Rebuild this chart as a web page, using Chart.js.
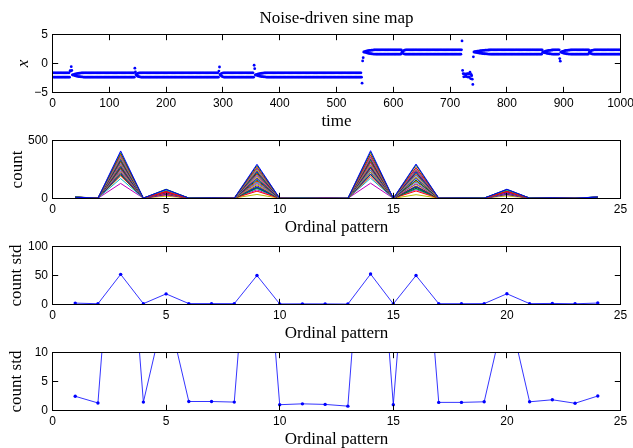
<!DOCTYPE html>
<html>
<head>
<meta charset="utf-8">
<script src="https://cdn.jsdelivr.net/npm/chart.js@4.4.0/dist/chart.umd.min.js"></script>
<style>
html,body{margin:0;padding:0;background:#fff;overflow:hidden;width:633px;height:448px;position:relative;}
canvas{position:absolute;left:0;}
</style>
</head>
<body>
<canvas id="c1" width="633" height="140" style="top:0px"></canvas>
<canvas id="c2" width="633" height="140" style="top:106px"></canvas>
<canvas id="c3" width="633" height="140" style="top:212px"></canvas>
<canvas id="c4" width="633" height="140" style="top:318px"></canvas>
<script>
// ---- Panel 1: noise-driven sine map, x(t) for t = 1..1000 (20 values per row) ----
const mapValues = [
-1.6,-2.35,-1.6,-2.35,-1.6,-2.35,-1.6,-2.35,-1.6,-2.35,-1.6,-2.35,-1.6,-2.35,-1.6,-2.35,-1.6,-2.35,-1.6,-2.35,
-1.6,-2.35,-1.6,-2.35,-1.6,-2.35,-1.6,-2.35,-1.6,-2.35,-1.25,-1.3,-0.55,-1.2,-1.95,-2.0,-1.92,-2.03,-1.84,-2.11,
-1.79,-2.16,-1.74,-2.21,-1.71,-2.25,-1.68,-2.28,-1.65,-2.3,-1.63,-2.32,-1.62,-2.34,-1.6,-2.35,-1.6,-2.35,-1.6,-2.35,
-1.6,-2.35,-1.6,-2.35,-1.6,-2.35,-1.6,-2.35,-1.6,-2.35,-1.6,-2.35,-1.6,-2.35,-1.6,-2.35,-1.6,-2.35,-1.6,-2.35,
-1.6,-2.35,-1.6,-2.35,-1.6,-2.35,-1.6,-2.35,-1.6,-2.35,-1.6,-2.35,-1.6,-2.35,-1.6,-2.35,-1.6,-2.35,-1.6,-2.35,
-1.6,-2.35,-1.6,-2.35,-1.6,-2.35,-1.6,-2.35,-1.6,-2.35,-1.6,-2.35,-1.6,-2.35,-1.6,-2.35,-1.6,-2.35,-1.6,-2.35,
-1.6,-2.35,-1.6,-2.35,-1.6,-2.35,-1.6,-2.35,-1.6,-2.35,-1.6,-2.35,-1.6,-2.35,-1.6,-2.35,-1.6,-2.35,-1.6,-2.35,
-1.6,-2.35,-1.6,-2.35,-0.8,-1.45,-1.9,-2.05,-1.75,-2.2,-1.68,-2.28,-1.63,-2.32,-1.6,-2.35,-1.6,-2.35,-1.6,-2.35,
-1.6,-2.35,-1.6,-2.35,-1.6,-2.35,-1.6,-2.35,-1.6,-2.35,-1.6,-2.35,-1.6,-2.35,-1.6,-2.35,-1.6,-2.35,-1.6,-2.35,
-1.6,-2.35,-1.6,-2.35,-1.6,-2.35,-1.6,-2.35,-1.6,-2.35,-1.6,-2.35,-1.6,-2.35,-1.6,-2.35,-1.6,-2.35,-1.6,-2.35,
-1.6,-2.35,-1.6,-2.35,-1.6,-2.35,-1.6,-2.35,-1.6,-2.35,-1.6,-2.35,-1.6,-2.35,-1.6,-2.35,-1.6,-2.35,-1.6,-2.35,
-1.6,-2.35,-1.6,-2.35,-1.6,-2.35,-1.6,-2.35,-1.6,-2.35,-1.6,-2.35,-1.6,-2.35,-1.6,-2.35,-1.6,-2.35,-1.6,-2.35,
-1.6,-2.35,-1.6,-2.35,-1.6,-2.35,-1.6,-2.35,-1.6,-2.35,-1.6,-2.35,-1.6,-2.35,-1.6,-2.35,-1.6,-2.35,-1.6,-2.35,
-1.6,-2.35,-1.6,-2.35,-1.6,-2.35,-1.6,-2.35,-1.6,-2.35,-1.6,-2.35,-1.6,-2.35,-1.6,-2.35,-1.6,-2.35,-1.6,-2.35,
-1.6,-2.35,-1.6,-2.35,-1.6,-2.35,-1.6,-2.35,-1.6,-2.35,-1.6,-2.35,-1.3,-0.6,-1.9,-2.05,-1.75,-2.2,-1.65,-2.3,
-1.6,-2.35,-1.6,-2.35,-1.6,-2.35,-1.6,-2.35,-1.6,-2.35,-1.6,-2.35,-1.6,-2.35,-1.6,-2.35,-1.6,-2.35,-1.6,-2.35,
-1.6,-2.35,-1.6,-2.35,-1.6,-2.35,-1.6,-2.35,-1.6,-2.35,-1.6,-2.35,-1.6,-2.35,-1.6,-2.35,-1.6,-2.35,-1.6,-2.35,
-1.6,-2.35,-1.6,-2.35,-1.6,-2.35,-1.6,-2.35,-1.6,-2.35,-1.6,-2.35,-1.6,-2.35,-0.3,-0.9,-1.95,-2.0,-1.92,-2.03,
-1.84,-2.11,-1.79,-2.16,-1.74,-2.21,-1.71,-2.25,-1.68,-2.28,-1.65,-2.3,-1.63,-2.32,-1.62,-2.34,-1.6,-2.35,-1.6,-2.35,
-1.6,-2.35,-1.6,-2.35,-1.6,-2.35,-1.6,-2.35,-1.6,-2.35,-1.6,-2.35,-1.6,-2.35,-1.6,-2.35,-1.6,-2.35,-1.6,-2.35,
-1.6,-2.35,-1.6,-2.35,-1.6,-2.35,-1.6,-2.35,-1.6,-2.35,-1.6,-2.35,-1.6,-2.35,-1.6,-2.35,-1.6,-2.35,-1.6,-2.35,
-1.6,-2.35,-1.6,-2.35,-1.6,-2.35,-1.6,-2.35,-1.6,-2.35,-1.6,-2.35,-1.6,-2.35,-1.6,-2.35,-1.6,-2.35,-1.6,-2.35,
-1.6,-2.35,-1.6,-2.35,-1.6,-2.35,-1.6,-2.35,-1.6,-2.35,-1.6,-2.35,-1.6,-2.35,-1.6,-2.35,-1.6,-2.35,-1.6,-2.35,
-1.6,-2.35,-1.6,-2.35,-1.6,-2.35,-1.6,-2.35,-1.6,-2.35,-1.6,-2.35,-1.6,-2.35,-1.6,-2.35,-1.6,-2.35,-1.6,-2.35,
-1.6,-2.35,-1.6,-2.35,-1.6,-2.35,-1.6,-2.35,-1.6,-2.35,-1.6,-2.35,-1.6,-2.35,-1.6,-2.35,-1.6,-2.35,-1.6,-2.35,
-1.6,-2.35,-1.6,-2.35,-1.6,-2.35,-1.6,-2.35,-1.6,-2.35,-1.6,-2.35,-1.6,-2.35,-1.6,-2.35,-1.6,-2.35,-1.6,-2.35,
-1.6,-2.35,-1.6,-2.35,-1.6,-2.35,-1.6,-2.35,-1.6,-2.35,-1.6,-2.35,-1.6,-2.35,-1.6,-2.35,-1.6,-2.35,-1.6,-2.35,
-1.6,-2.35,-1.6,-2.35,-3.4,0.45,1.0,2.0,1.95,2.03,1.92,2.11,1.84,2.16,1.79,2.21,1.74,2.25,1.71,2.28,
1.68,2.3,1.65,2.32,1.63,2.34,1.62,2.35,1.6,2.35,1.6,2.35,1.6,2.35,1.6,2.35,1.6,2.35,1.6,2.35,
1.6,2.35,1.6,2.35,1.6,2.35,1.6,2.35,1.6,2.35,1.6,2.35,1.6,2.35,1.6,2.35,1.6,2.35,1.6,2.35,
1.6,2.35,1.6,2.35,1.6,2.35,1.6,2.35,1.6,2.35,1.6,2.35,1.6,2.35,1.9,2.05,1.75,2.2,1.65,2.3,
1.6,2.35,1.6,2.35,1.6,2.35,1.6,2.35,1.6,2.35,1.6,2.35,1.6,2.35,1.6,2.35,1.6,2.35,1.6,2.35,
1.6,2.35,1.6,2.35,1.6,2.35,1.6,2.35,1.6,2.35,1.6,2.35,1.6,2.35,1.6,2.35,1.6,2.35,1.6,2.35,
1.6,2.35,1.6,2.35,1.6,2.35,1.6,2.35,1.6,2.35,1.6,2.35,1.6,2.35,1.6,2.35,1.6,2.35,1.6,2.35,
1.6,2.35,1.6,2.35,1.6,2.35,1.6,2.35,1.6,2.35,1.6,2.35,1.6,2.35,1.6,2.35,1.6,2.35,1.6,2.35,
1.6,2.35,1.6,2.35,1.6,2.35,1.6,2.35,1.6,2.35,1.6,2.35,1.6,2.35,1.6,2.35,1.6,2.35,1.6,2.35,
3.9,-1.2,-1.75,-2.3,-1.8,-2.25,-1.85,-2.2,-1.8,-2.3,-1.75,-2.35,-1.8,-2.3,-1.5,-2.6,-1.9,-2.1,-2.7,-3.6,
1.15,1.99,1.96,2.03,1.92,2.07,1.88,2.11,1.84,2.14,1.81,2.17,1.78,2.2,1.75,2.23,1.72,2.25,1.7,2.27,
1.68,2.29,1.66,2.31,1.65,2.32,1.63,2.33,1.62,2.34,1.61,2.35,1.6,2.35,1.6,2.35,1.6,2.35,1.6,2.35,
1.6,2.35,1.6,2.35,1.6,2.35,1.6,2.35,1.6,2.35,1.6,2.35,1.6,2.35,1.6,2.35,1.6,2.35,1.6,2.35,
1.6,2.35,1.6,2.35,1.6,2.35,1.6,2.35,1.6,2.35,1.6,2.35,1.6,2.35,1.6,2.35,1.6,2.35,1.6,2.35,
1.6,2.35,1.6,2.35,1.6,2.35,1.6,2.35,1.6,2.35,1.6,2.35,1.6,2.35,1.6,2.35,1.6,2.35,1.6,2.35,
1.6,2.35,1.6,2.35,1.6,2.35,1.6,2.35,1.6,2.35,1.6,2.35,1.6,2.35,1.6,2.35,1.6,2.35,1.6,2.35,
1.6,2.35,1.95,2.0,1.9,2.05,1.84,2.11,1.79,2.16,1.74,2.21,1.71,2.25,1.68,2.28,1.65,2.3,1.63,2.33,
1.6,2.35,1.6,2.35,1.6,2.35,1.6,2.35,1.6,2.35,1.6,2.35,0.85,0.4,1.95,2.0,1.88,2.07,1.8,2.15,
1.75,2.2,1.71,2.25,1.68,2.28,1.65,2.3,1.63,2.32,1.62,2.34,1.6,2.35,1.6,2.35,1.6,2.35,1.6,2.35,
1.6,2.35,1.6,2.35,1.6,2.35,1.6,2.35,1.6,2.35,1.6,2.35,1.6,2.35,1.6,2.35,1.6,2.35,1.6,2.35,
1.6,2.35,1.6,2.35,1.9,2.05,1.75,2.2,1.68,2.28,1.63,2.32,1.6,2.35,1.6,2.35,1.6,2.35,1.6,2.35,
1.6,2.35,1.6,2.35,1.6,2.35,1.6,2.35,1.6,2.35,1.6,2.35,1.6,2.35,1.6,2.35,1.6,2.35,1.6,2.35,
1.6,2.35,1.6,2.35,1.6,2.35,1.6,2.35,1.6,2.35,1.6,2.35,1.6,2.35,1.6,2.35,1.6,2.35,1.6,2.35
];

// ---- Panels 2-4: ordinal patterns ----
const patterns = [1,2,3,4,5,6,7,8,9,10,11,12,13,14,15,16,17,18,19,20,21,22,23,24];
const countSeries = [
[11,3,410,4,78,3,5,3,295,2,2,2,1,412,2,297,3,4,3,80,3,6,3,12],
[10,2,395,3,80,4,4,2,285,1,2,1,1,398,1,288,2,3,4,78,4,5,2,10],
[9,4,380,3,60,2,5,4,270,2,1,2,0,378,2,268,3,3,2,62,2,7,3,9],
[12,3,370,2,72,3,6,3,262,1,3,1,1,372,1,265,4,4,3,70,3,5,4,11],
[8,2,360,4,75,4,4,2,255,2,2,3,1,358,2,252,2,2,4,74,4,6,2,13],
[11,3,350,3,70,3,5,3,245,3,2,1,0,352,1,247,3,3,3,72,3,4,3,8],
[13,4,342,2,68,2,3,4,238,2,1,2,1,340,3,240,4,4,2,66,2,6,4,12],
[9,2,335,3,66,3,5,2,230,1,2,2,1,337,2,228,3,3,3,68,3,5,2,10],
[10,3,326,4,64,4,4,3,222,2,3,1,0,328,1,224,2,4,4,62,4,7,3,9],
[12,2,318,3,58,3,6,4,212,1,2,2,1,316,2,214,3,3,2,60,2,5,3,11],
[8,4,310,2,62,2,4,2,205,2,1,1,1,312,1,203,4,2,3,64,3,6,2,13],
[11,3,300,3,56,3,5,3,196,2,2,2,0,302,2,198,3,4,4,54,4,4,4,10],
[10,2,292,4,60,4,3,4,188,1,2,1,1,290,1,186,2,3,3,58,3,6,3,8],
[13,3,284,3,54,2,5,2,178,2,3,2,1,286,2,180,3,3,2,56,2,5,2,12],
[9,4,276,2,52,3,4,3,170,1,1,1,1,274,1,172,4,4,3,50,3,7,3,11],
[11,2,268,4,56,4,6,4,160,2,2,2,0,270,2,158,2,3,4,54,4,5,4,9],
[10,3,258,3,48,3,4,2,150,2,2,1,1,260,1,152,3,2,3,50,3,6,2,10],
[12,3,250,2,50,2,5,3,140,1,3,2,1,248,2,142,4,4,2,48,2,4,3,13],
[8,2,240,3,46,4,5,4,130,2,1,2,1,242,1,128,3,3,3,44,4,6,3,8],
[11,4,232,4,44,3,3,2,120,1,2,1,0,230,2,122,2,4,4,46,3,5,2,11],
[10,3,224,3,42,2,4,3,110,2,2,2,1,226,1,108,3,3,3,40,2,6,4,12],
[12,2,215,2,40,3,6,4,100,1,2,1,1,213,2,102,4,2,2,42,3,5,3,9],
[9,3,205,3,44,4,4,2,90,2,1,2,0,207,1,88,3,4,3,42,4,7,2,10],
[11,4,195,4,36,2,5,3,63,1,3,1,1,193,2,65,2,3,4,38,2,4,3,11],
[10,3,172,2,38,3,4,3,85,2,2,2,1,175,1,83,3,3,3,36,3,6,4,13],
[13,2,130,3,30,3,5,2,75,1,2,1,1,132,2,77,4,4,2,32,4,5,2,8],
[8,3,210,4,20,4,4,4,35,2,1,2,0,208,1,33,3,2,3,22,3,6,3,10],
[11,3,260,3,34,2,5,3,95,1,2,1,1,262,2,97,2,3,4,36,2,5,3,12]
];
const countStd = [2.45,1.3,52,1.45,18.3,1.55,1.55,1.45,50,1.0,1.15,1.05,0.75,52.5,1.0,50,1.4,1.4,1.5,18.5,1.5,1.85,1.25,2.5];

const seriesColors = ['#0000ff','#008000','#ff0000','#00bfbf','#bf00bf','#bfbf00','#404040'];
const xTicksTime = {min:0, max:1000, step:100};
const xTicksPattern = {min:0, max:25, step:5};

// ---- helpers ----
const TICK_FONT = {family:'Liberation Sans', size:12};
const LABEL_FONT = {family:'Liberation Serif', size:17};
function fmt(v){ return v < 0 ? '\u2212' + Math.abs(v) : String(v); }

const boxPlugin = {
  id: 'matlabBox',
  afterDraw(chart){
    const {ctx, chartArea:a, scales} = chart;
    const L = 5.7;
    ctx.save();
    ctx.strokeStyle = '#000';
    ctx.lineWidth = 1;
    ctx.beginPath();
    const xs = scales.x, ys = scales.y;
    xs.ticks.forEach(t => {
      const p = Math.floor(xs.getPixelForValue(t.value)) + 0.5;
      ctx.moveTo(p, a.bottom); ctx.lineTo(p, a.bottom - L);
      ctx.moveTo(p, a.top); ctx.lineTo(p, a.top + L);
    });
    ys.ticks.forEach(t => {
      const p = Math.floor(ys.getPixelForValue(t.value)) + 0.5;
      ctx.moveTo(a.left, p); ctx.lineTo(a.left + L, p);
      ctx.moveTo(a.right, p); ctx.lineTo(a.right - L, p);
    });
    ctx.stroke();
    ctx.strokeRect(a.left, a.top, a.right - a.left, a.bottom - a.top);
    ctx.restore();
  }
};

function xAxis(r, label){
  return {
    type:'linear', min:r.min, max:r.max,
    ticks:{stepSize:r.step, padding:4, color:'#000', font:TICK_FONT, maxRotation:0, autoSkip:false, callback:fmt},
    grid:{display:false, drawTicks:false}, border:{display:false},
    title:{display:true, text:label, color:'#000', font:LABEL_FONT, padding:{top:0, bottom:0}},
    afterFit(s){ s.height = 39; s.paddingLeft = 0; s.paddingRight = 0; s.paddingTop = 0; s.paddingBottom = 0; }
  };
}
function yAxis(min, max, step, label, titlePad, italic){
  return {
    type:'linear', min, max,
    ticks:{stepSize:step, padding:4.5, color:'#000', font:TICK_FONT, callback:fmt},
    grid:{display:false, drawTicks:false}, border:{display:false},
    title:{display:true, text:label, color:'#000',
      font:Object.assign({}, LABEL_FONT, italic ? {style:'italic'} : {}),
      padding:{top:titlePad, bottom:0}},
    afterFit(s){ s.width = 52.5; s.paddingLeft = 0; s.paddingRight = 0; s.paddingTop = 0; s.paddingBottom = 0; }
  };
}
function basePlugins(title){
  const p = {legend:{display:false}, tooltip:{enabled:false}};
  if (title) {
    p.title = {display:true, text:title, fullSize:false, color:'#000',
      font:{family:'Liberation Serif', size:17, weight:'normal'}, padding:{top:8.6, bottom:5.5}};
  } else {
    p.title = {display:false};
  }
  return p;
}
function baseOptions(scales, title){
  return {
    responsive:false, animation:false, events:[],
    layout:{padding:{left:0, right:12.5, top: title ? 0 : 34.5, bottom:8.5}},
    plugins: basePlugins(title),
    scales
  };
}

// Panel 1
new Chart(document.getElementById('c1'), {
  type:'scatter',
  data:{datasets:[{
    data: mapValues.map((v, i) => ({x: i + 1, y: v})),
    showLine:false, pointRadius:1.4, pointBorderWidth:0,
    pointBackgroundColor:'#0000ff', pointBorderColor:'#0000ff'
  }]},
  options: baseOptions({x: xAxis(xTicksTime, 'time'), y: yAxis(-5, 5, 5, 'x', 13, true)}, 'Noise-driven sine map'),
  plugins:[boxPlugin]
});

// Panel 2
new Chart(document.getElementById('c2'), {
  type:'line',
  data:{datasets: countSeries.map((s, k) => ({
    data: s.map((v, i) => ({x: patterns[i], y: v})),
    borderColor: seriesColors[k % seriesColors.length],
    borderWidth:1, pointRadius:0, tension:0, fill:false
  }))},
  options: baseOptions({x: xAxis(xTicksPattern, 'Ordinal pattern'), y: yAxis(0, 500, 500, 'count', 7, false)}, null),
  plugins:[boxPlugin]
});

function stdChart(id, ymax, ystep){
  new Chart(document.getElementById(id), {
    type:'line',
    data:{datasets:[{
      data: countStd.map((v, i) => ({x: patterns[i], y: v})),
      borderColor:'#0000ff', borderWidth:0.8, tension:0, fill:false,
      pointRadius:1.7, pointBorderWidth:0, pointBackgroundColor:'#0000ff'
    }]},
    options: baseOptions({x: xAxis(xTicksPattern, 'Ordinal pattern'), y: yAxis(0, ymax, ystep, 'count std', 6.5, false)}, null),
    plugins:[boxPlugin]
  });
}
stdChart('c3', 100, 50);
stdChart('c4', 10, 5);
</script>
</body>
</html>
